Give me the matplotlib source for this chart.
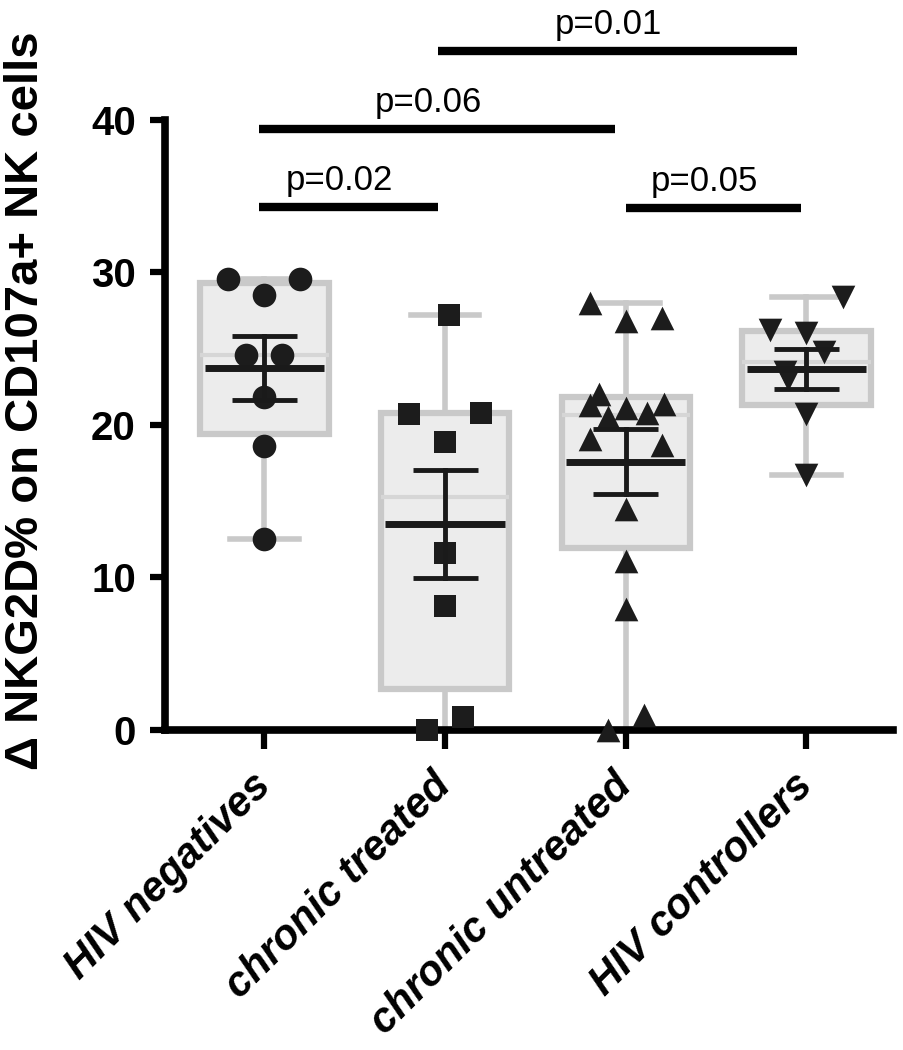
import numpy as np
import matplotlib
matplotlib.use("Agg")
import matplotlib.pyplot as plt
import matplotlib.transforms as mtransforms

plt.rcParams['font.family'] = ['Liberation Sans', 'DejaVu Sans']

groups = ["HIV negatives", "chronic treated", "chronic untreated", "HIV controllers"]
markers = ["o", "s", "^", "v"]

# values, with horizontal jitter used in the original
neg = [29.6, 29.6, 28.5, 24.6, 24.6, 21.8, 18.6, 12.5]
neg_dx = [-0.2, 0.2, 0.0, -0.1, 0.1, 0.0, 0.0, 0.0]
treated = [27.2, 20.8, 20.7, 18.9, 11.6, 8.1, 0.85, 0.0]
treated_dx = [0.02, 0.2, -0.2, 0.0, 0.0, 0.0, 0.1, -0.1]
untreated = [28.0, 27.0, 26.8, 22.0, 21.4, 21.3, 21.1, 20.8, 20.5,
             19.1, 18.7, 14.5, 11.1, 7.9, 1.0, 0.0]
untreated_dx = [-0.2, 0.2, 0.0, -0.15, 0.21, -0.2, 0.0, 0.12, -0.1,
                -0.2, 0.2, 0.0, 0.0, 0.0, 0.1, -0.1]
controllers = [28.4, 26.2, 26.0, 24.8, 23.5, 23.0, 20.7, 16.7]
controllers_dx = [0.2, -0.2, 0.0, 0.1, -0.12, -0.1, 0.0, 0.0]

data = [neg, treated, untreated, controllers]
jitter = [neg_dx, treated_dx, untreated_dx, controllers_dx]

# comparisons: (group a, group b, bar height, label)
comp_a = [0, 0, 1, 2]
comp_b = [1, 2, 3, 3]
comp_y = [34.3, 39.4, 44.5, 34.2]
comp_p = ["p=0.02", "p=0.06", "p=0.01", "p=0.05"]
# small shifts of bar ends relative to the group centres
comp_lo = [-0.03, -0.03, -0.04, 0.0]
comp_hi = [-0.04, -0.06, -0.05, -0.03]

fig = plt.figure(figsize=(9.04, 10.5), dpi=100)
ax = fig.add_axes([0.1825, 0.3048, 0.8055, 0.581])

box_grey = "#c9c9c9"
stats = []
for i, v in enumerate(data):
    v = np.array(v)
    q1, med, q3 = np.percentile(v, [25, 50, 75], method="weibull")
    stats.append(dict(med=med, q1=q1, q3=q3, whislo=v.min(), whishi=v.max(), fliers=[]))

ax.bxp(stats, positions=range(4), widths=0.71, patch_artist=True, showfliers=False,
       boxprops=dict(facecolor="#ececec", edgecolor=box_grey, linewidth=4.5),
       whiskerprops=dict(color=box_grey, linewidth=4),
       capprops=dict(color=box_grey, linewidth=4),
       medianprops=dict(color="#d6d6d6", linewidth=3),
       capwidths=0.38, zorder=1)

for i, (v, dx) in enumerate(zip(data, jitter)):
    x = i + np.array(dx)
    ax.scatter(x, v, marker=markers[i], s=290 if markers[i] != "s" else 230,
               color="#1c1c1c", zorder=3, clip_on=False, linewidths=0)
    v = np.array(v)
    m = v.mean()
    sem = v.std(ddof=1) / np.sqrt(len(v))
    ax.plot([i - 0.33, i + 0.33], [m, m], color="#1a1a1a", lw=5, zorder=4,
            solid_capstyle="butt")
    ax.plot([i, i], [m - sem, m + sem], color="#1a1a1a", lw=3.5, zorder=4)
    for yy in (m - sem, m + sem):
        ax.plot([i - 0.18, i + 0.18], [yy, yy], color="#1a1a1a", lw=3.5, zorder=4,
                solid_capstyle="butt")

for a, b, y, p, lo, hi in zip(comp_a, comp_b, comp_y, comp_p, comp_lo, comp_hi):
    x1, x2 = a + lo, b + hi
    ax.plot([x1, x2], [y, y], color="black", lw=6, clip_on=False, solid_capstyle="butt")
    ax.text((x1 + x2) / 2 - 0.05, y + 1.75, p, ha="center", va="center", fontsize=25)

ax.set_xlim(-0.55, 3.48)
ax.set_ylim(0, 40)
ax.set_yticks([0, 10, 20, 30, 40])
ax.set_xticks(range(4))
ax.set_xticklabels(groups, rotation=45, ha="right", va="center", rotation_mode="anchor",
                   fontsize=30, fontweight="bold", fontstyle="italic")
shift = mtransforms.ScaledTranslation(7 / 72, 0, fig.dpi_scale_trans)
for t in ax.get_xticklabels():
    t.set_transform(t.get_transform() + shift)
ax.tick_params(axis="x", length=14, width=4.5, pad=22)
ax.tick_params(axis="y", length=11, width=4.5, pad=10, labelsize=29)
for t in ax.get_yticklabels():
    t.set_fontweight("bold")

for s in ["top", "right"]:
    ax.spines[s].set_visible(False)
ax.spines["left"].set_linewidth(5.5)
ax.spines["bottom"].set_linewidth(5.5)
ax.spines["left"].set_zorder(0.5)

ax.set_ylabel("\u0394 NKG2D% on CD107a+ NK cells", fontsize=34, fontweight="bold")
ax.yaxis.set_label_coords(-0.16, 0.54)

fig.savefig("out.png", dpi=100)
